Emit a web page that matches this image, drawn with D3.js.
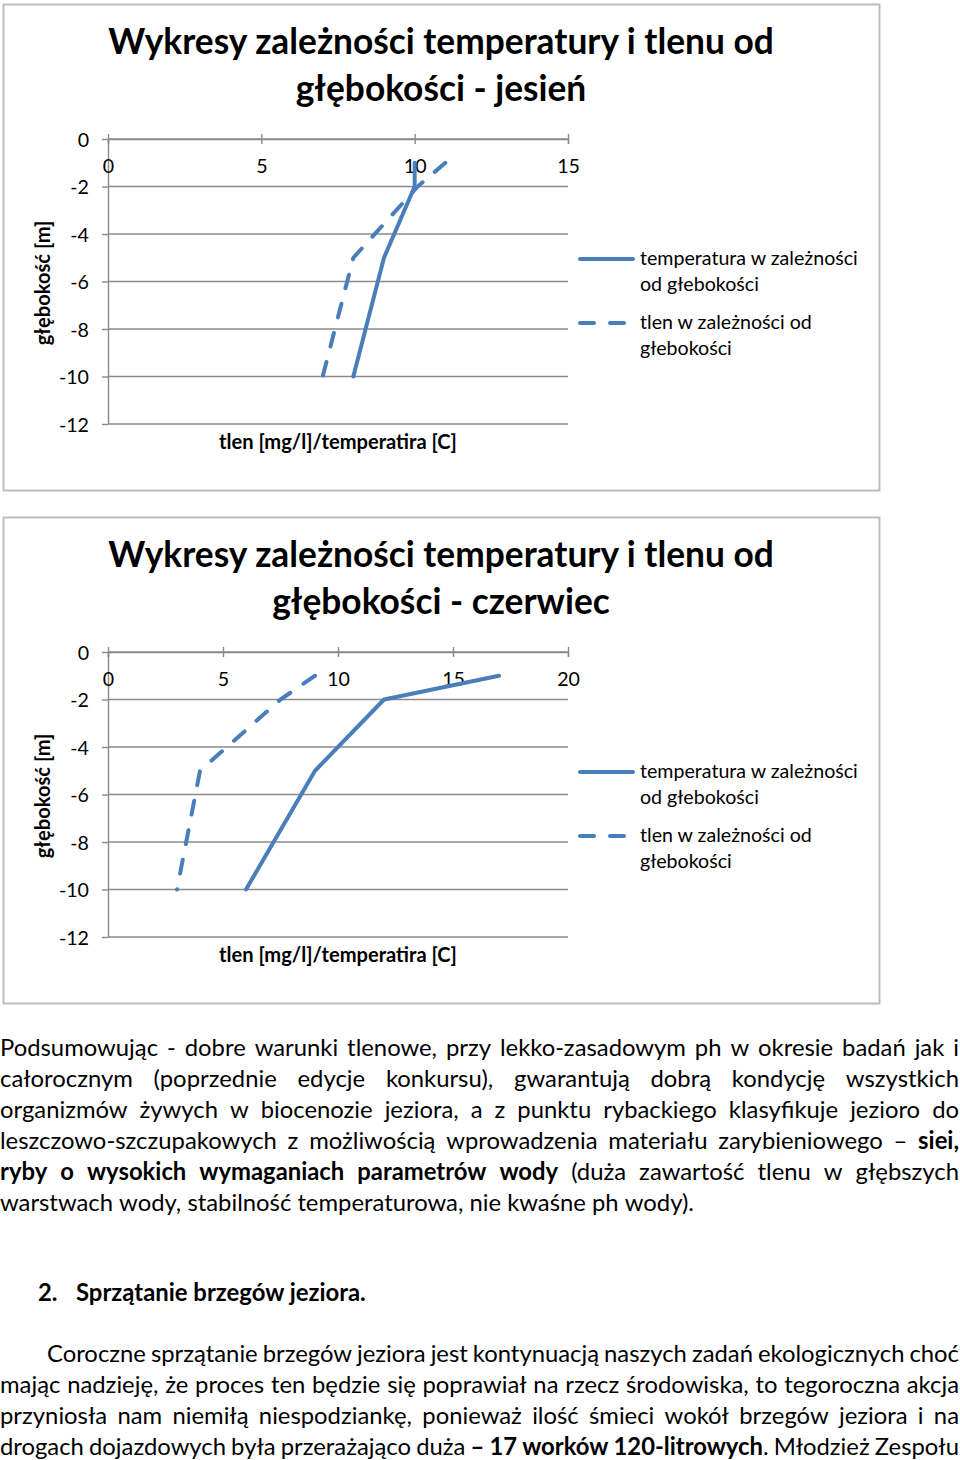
<!DOCTYPE html>
<html><head><meta charset="utf-8">
<script src="https://cdn.jsdelivr.net/npm/d3@7"></script>
<style>
body{margin:0;background:#fff}
svg{display:block}
text{font-family:Lato,"Open Sans",sans-serif;fill:#000}
</style>
</head><body>
<svg id="c" width="960" height="1460"></svg>
<script>
// ---------- data ----------
const depths = [-1, -2, -5, -10];
const tempAutumn = [10, 10, 9, 8];
const oxyAutumn = [11, 10.1, 8, 7];
const tempJune = [17, 12, 9, 6];
const oxyJune = [9, 7.5, 4, 3];
const yTicks = [0, -2, -4, -6, -8, -10, -12];
const xTicksAutumn = [0, 5, 10, 15];
const xTicksJune = [0, 5, 10, 15, 20];
const titles = [["Wykresy zależności temperatury i tlenu od", "głębokości - jesień"],
                ["Wykresy zależności temperatury i tlenu od", "głębokości - czerwiec"]];
const legendTemp = ["temperatura w zależności", "od głebokości"];
const legendOxy = ["tlen w zależności od", "głebokości"];
const xTitle = "tlen [mg/l]/temperatira [C]";
const yTitle = "głębokość [m]";
const para1 = [
 "Podsumowując - dobre warunki tlenowe, przy lekko-zasadowym ph w okresie badań jak i",
 "całorocznym (poprzednie edycje konkursu), gwarantują dobrą kondycję wszystkich",
 "organizmów żywych w biocenozie jeziora, a z punktu rybackiego klasyfikuje jezioro do",
 "leszczowo-szczupakowych z możliwością wprowadzenia materiału zarybieniowego – **siei,**",
 "**ryby o wysokich wymaganiach parametrów wody** (duża zawartość tlenu w głębszych",
 "warstwach wody, stabilność temperaturowa, nie kwaśne ph wody)."
];
const headingNum = "2.";
const headingText = "Sprzątanie brzegów jeziora.";
const para2 = [
 "Coroczne sprzątanie brzegów jeziora jest kontynuacją naszych zadań ekologicznych choć",
 "mając nadzieję, że proces ten będzie się poprawiał na rzecz środowiska, to tegoroczna akcja",
 "przyniosła nam niemiłą niespodziankę, ponieważ ilość śmieci wokół brzegów jeziora i na",
 "drogach dojazdowych była przerażająco duża **– 17 worków 120-litrowych**. Młodzież Zespołu"
];

const svg = d3.select("#c");
const BLUE = "#4a7ebb", GRID = "#8a8a8a";

function measure(str, size, weight) {
  const t = svg.append("text").attr("font-size", size).attr("font-weight", weight).text(str);
  const w = t.node().getComputedTextLength();
  t.remove();
  return w;
}
function fit(str, weight, target) { return 20 * target / measure(str, 20, weight); }

const titleSize = fit(titles[0][0], 700, 666);
const legSize = fit(legendTemp[0], 400, 218);
const axTitleSize = fit(xTitle, 700, 238);
const tickSize = legSize;

function chart(oy, temp, oxy, xTicks, title) {
  const g = svg.append("g").attr("transform", `translate(0,${oy})`);
  g.append("rect").attr("x", 3.5).attr("y", 4.5).attr("width", 876).attr("height", 486)
    .attr("fill", "#fff").attr("stroke", "#bdbdbd").attr("stroke-width", 2);
  g.append("text").attr("x", 441).attr("y", 54).attr("text-anchor", "middle")
    .attr("font-size", titleSize).attr("font-weight", 700).text(title[0]);
  g.append("text").attr("x", 441).attr("y", 101).attr("text-anchor", "middle")
    .attr("font-size", titleSize).attr("font-weight", 700).text(title[1]);

  const x = d3.scaleLinear().domain([0, d3.max(xTicks)]).range([108, 568]);
  const y = d3.scaleLinear().domain([0, -12]).range([139, 424]);

  // gridlines
  g.append("g").selectAll("line").data(yTicks).join("line")
    .attr("x1", 108).attr("x2", 568).attr("y1", d => y(d)).attr("y2", d => y(d))
    .attr("stroke", GRID).attr("stroke-width", 1.4);

  // y axis
  const ya = g.append("g").attr("transform", "translate(108,0)")
    .call(d3.axisLeft(y).tickValues(yTicks).tickSize(6).tickSizeOuter(0).tickPadding(13)
      .tickFormat(d => d === 0 ? "0" : "-" + Math.abs(d)));
  ya.select(".domain").attr("stroke", GRID).attr("stroke-width", 1.4);
  ya.selectAll(".tick line").attr("stroke", GRID).attr("stroke-width", 1.4);
  ya.selectAll(".tick text").attr("font-size", tickSize).attr("font-family", null)
    .attr("fill", "#000").attr("dy", "0.36em");

  // x axis on y=0
  const xa = g.append("g").attr("transform", `translate(0,${y(0)})`)
    .call(d3.axisBottom(x).tickValues(xTicks).tickSizeOuter(0).tickSize(5).tickPadding(0));
  xa.select(".domain").attr("stroke", GRID).attr("stroke-width", 1.4);
  xa.selectAll(".tick line").attr("stroke", GRID).attr("stroke-width", 1.4).attr("y1", -5).attr("y2", 5);
  xa.selectAll(".tick text").attr("font-size", tickSize).attr("font-family", null)
    .attr("fill", "#000").attr("y", 27).attr("dy", "0.36em");

  // axis titles
  g.append("text").attr("x", 338).attr("y", 449).attr("text-anchor", "middle")
    .attr("font-size", axTitleSize).attr("font-weight", 700).text(xTitle);
  g.append("text").attr("transform", "translate(50,283) rotate(-90)").attr("text-anchor", "middle")
    .attr("font-size", axTitleSize).attr("font-weight", 700).text(yTitle);

  const line = d3.line().x(d => x(d[0])).y(d => y(d[1]));
  g.append("path").datum(d3.zip(temp, depths)).attr("d", line)
    .attr("fill", "none").attr("stroke", BLUE).attr("stroke-width", 4).attr("stroke-linejoin", "round").attr("stroke-linecap", "round");
  g.append("path").datum(d3.zip(oxy, depths)).attr("d", line)
    .attr("fill", "none").attr("stroke", BLUE).attr("stroke-width", 4).attr("stroke-linejoin", "round")
    .attr("stroke-linecap", "round").attr("stroke-dasharray", "14,16");

  // legend
  g.append("line").attr("x1", 580).attr("x2", 633).attr("y1", 259).attr("y2", 259)
    .attr("stroke", BLUE).attr("stroke-width", 4).attr("stroke-linecap", "round");
  g.append("line").attr("x1", 580).attr("x2", 627).attr("y1", 323).attr("y2", 323)
    .attr("stroke", BLUE).attr("stroke-width", 4).attr("stroke-linecap", "round").attr("stroke-dasharray", "14,16");
  [[legendTemp, 265], [legendOxy, 329]].forEach(([lines, by]) => {
    lines.forEach((s, i) => g.append("text").attr("x", 640).attr("y", by + i * 26)
      .attr("font-size", legSize).text(s));
  });
}

chart(0, tempAutumn, oxyAutumn, xTicksAutumn, titles[0]);
chart(513, tempJune, oxyJune, xTicksJune, titles[1]);

// ---------- body text ----------
const bodySize = fit("warstwach wody, stabilność temperaturowa, nie kwaśne ph wody).", 400, 693);

function parseWords(str) {
  const segs = str.split("**");
  const words = [];
  let cur = null;
  segs.forEach((seg, i) => {
    const bold = i % 2 === 1;
    const parts = seg.split(" ");
    parts.forEach((p, j) => {
      if (j > 0) { if (cur && cur.length) words.push(cur); cur = null; }
      if (p.length) { if (!cur) cur = []; cur.push({t: p, b: bold}); }
    });
  });
  if (cur && cur.length) words.push(cur);
  return words;
}
function wordWidth(w) {
  const t = svg.append("text").attr("font-size", bodySize);
  w.forEach(r => t.append("tspan").attr("font-weight", r.b ? 700 : 400).text(r.t));
  const wd = t.node().getComputedTextLength();
  t.remove();
  return wd;
}
function textLine(str, x0, x1, by, justify) {
  const words = parseWords(str);
  const widths = words.map(wordWidth);
  const total = d3.sum(widths);
  const gap = justify ? (x1 - x0 - total) / (words.length - 1) : measure("a a", bodySize, 400) - measure("aa", bodySize, 400);
  const t = svg.append("text").attr("y", by).attr("font-size", bodySize);
  let cx = x0;
  words.forEach((w, i) => {
    w.forEach((r, k) => {
      const ts = t.append("tspan").attr("font-weight", r.b ? 700 : 400)
        .text(r.t + (k === w.length - 1 && i < words.length - 1 ? " " : ""));
      if (k === 0) ts.attr("x", cx);
    });
    cx += widths[i] + gap;
  });
}
para1.forEach((s, i) => textLine(s, 0, 959, 1056 + i * 31, i < para1.length - 1));
svg.append("text").attr("x", 38).attr("y", 1301).attr("font-size", bodySize).attr("font-weight", 700).text(headingNum);
svg.append("text").attr("x", 76).attr("y", 1301).attr("font-size", fit(headingText, 700, 290)).attr("font-weight", 700).text(headingText);
para2.forEach((s, i) => textLine(s, i === 0 ? 47 : 0, 959, 1362 + i * 31, true));
</script>
</body></html>
